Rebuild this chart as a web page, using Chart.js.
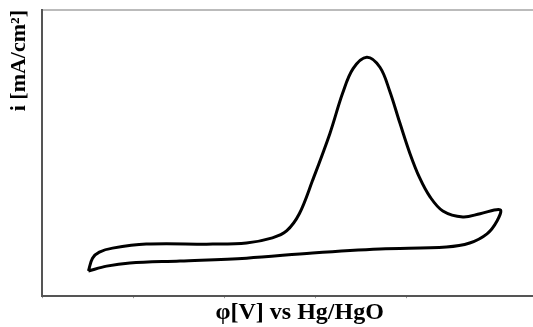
<!DOCTYPE html>
<html>
<head>
<meta charset="utf-8">
<script src="https://cdn.jsdelivr.net/npm/chart.js@4"></script>
<style>
  html, body { margin: 0; padding: 0; background: #fff; }
  #wrap { width: 533px; height: 327px; }
</style>
</head>
<body>
<div id="wrap"><canvas id="cv"></canvas></div>
<script>
// potencial (relative units, tick every 0.2) and current density (relative)
var potencial = [0.101, 0.110, 0.125, 0.154, 0.228, 0.374, 0.448, 0.505, 0.536, 0.564,
                 0.593, 0.631, 0.659, 0.682, 0.712, 0.741, 0.762, 0.785,
                 0.807, 0.828, 0.851, 0.879, 0.923, 0.961, 1.005,
                 0.998, 0.976, 0.938, 0.887, 0.741, 0.593, 0.448, 0.302, 0.192, 0.141, 0.101];
var corrente = [0.088, 0.133, 0.154, 0.168, 0.182, 0.182, 0.186, 0.204, 0.228, 0.288,
                0.404, 0.568, 0.709, 0.795, 0.835, 0.800, 0.719, 0.604,
                0.498, 0.414, 0.347, 0.298, 0.277, 0.288, 0.302,
                0.263, 0.218, 0.186, 0.172, 0.165, 0.151, 0.133, 0.123, 0.116, 0.105, 0.088];

var pontos = potencial.map(function(v, i) {
  return { x: v, y: corrente[i] };
});

new Chart(document.getElementById("cv"), {
  type: 'scatter',
  data: {
    datasets: [{
      data: pontos,
      showLine: true,
      borderColor: '#000',
      borderWidth: 3,
      pointRadius: 0,
      tension: 0.35,
      fill: false
    }]
  },
  options: {
    responsive: true,
    maintainAspectRatio: false,
    animation: false,
    layout: { padding: { top: 2, right: 0, bottom: 0, left: 6 } },
    plugins: { legend: { display: false }, tooltip: { enabled: false } },
    scales: {
      x: {
        min: 0, max: 1.077,
        grid: { display: true, drawOnChartArea: false, drawTicks: true, tickLength: 2, color: '#999' },
        border: { display: true, color: '#555', width: 2 },
        ticks: { display: false, stepSize: 0.2 },
        title: {
          display: true,
          text: '\u2002\u2002φ[V] vs Hg/HgO',
          color: '#000',
          font: { family: 'Liberation Serif', size: 24, weight: 'bold' },
          padding: { top: 0, bottom: 0 }
        }
      },
      x2: {
        position: 'top',
        min: 0, max: 1.077,
        grid: { display: false },
        border: { display: true, color: '#bbb', width: 2 },
        ticks: { display: false }
      },
      y: {
        min: 0, max: 1,
        grid: { display: false },
        border: { display: true, color: '#555', width: 2 },
        ticks: { display: false },
        title: {
          display: true,
          align: 'end',
          text: 'i [mA/cm²]',
          color: '#000',
          font: { family: 'Liberation Serif', size: 22, weight: 'bold' },
          padding: { top: 0, bottom: 2 }
        }
      }
    }
  }
});
</script>
</body>
</html>
